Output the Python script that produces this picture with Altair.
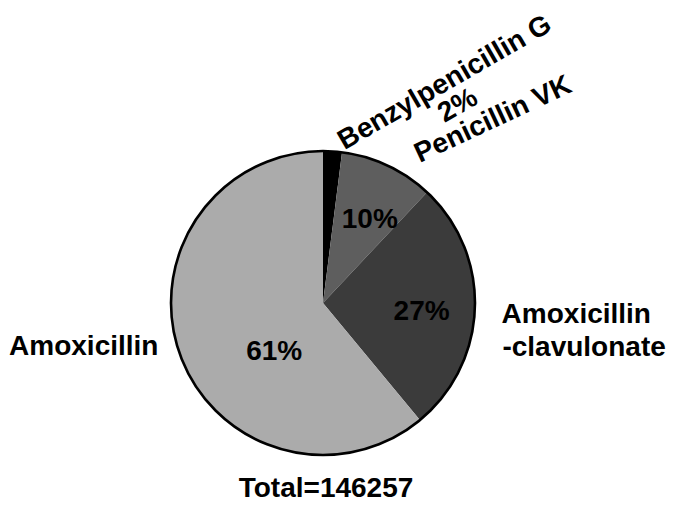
import altair as alt
import pandas as pd

# slice data (clockwise from 12 o'clock)
drugs = ["Benzylpenicillin G", "Penicillin VK", "Amoxicillin-clavulonate", "Amoxicillin"]
shares = [2, 10, 27, 61]
colors = ["#000000", "#5e5e5e", "#3b3b3b", "#ababab"]

# label texts with their polar placement (position in % of circle, radius in px)
label_text = ["61%", "27%", "10%", "Total=146257", "Amoxicillin", "Amoxicillin",
              "-clavulonate", "Benzylpenicillin G", "2%", "Penicillin VK"]
label_pos = [62.5, 26.4, 8.2, 49.74, 72.78, 26.06, 28.92, 8.06, 9.56, 11.91]
label_rad = [69, 99, 95, 186, 317, 179, 185, 251.6, 238.8, 250]
label_align = ["center", "center", "center", "center", "left", "left", "left",
               "center", "center", "center"]
label_angle = [0, 0, 0, 0, 0, 0, 0, 330, 330, 335]

slices = pd.DataFrame({"drug": drugs, "share": shares, "ord": list(range(len(drugs)))})
labels = pd.DataFrame({"text": label_text, "pos": label_pos, "rad": label_rad,
                       "align": label_align, "angle": label_angle})
outline = pd.DataFrame({"v": [100]})

CX, CY, R = 315, 295, 152
FONT = "Liberation Sans"

pie = alt.Chart(slices).mark_arc(outerRadius=R, stroke=None).encode(
    theta=alt.Theta("share:Q", stack=True, scale=alt.Scale(domain=[0, 100])),
    order=alt.Order("ord:Q"),
    color=alt.Color("drug:N", scale=alt.Scale(domain=drugs, range=colors), legend=None),
    x=alt.value(CX), y=alt.value(CY),
)

ring = alt.Chart(outline).mark_arc(outerRadius=R, fill=None, stroke="black", strokeWidth=2.6).encode(
    theta=alt.Theta("v:Q", stack=True),
    x=alt.value(CX), y=alt.value(CY),
)

def text_layer(align, angle):
    sub = labels[(labels["align"] == align) & (labels["angle"] == angle)]
    return alt.Chart(sub).mark_text(
        font=FONT, fontSize=28, fontWeight="bold", color="black",
        align=align, baseline="middle", angle=angle,
    ).encode(
        theta=alt.Theta("pos:Q", stack=False, scale=alt.Scale(domain=[0, 100], range=[0, 6.283185307179586])),
        radius=alt.Radius("rad:Q", scale=None),
        text="text:N",
        x=alt.value(CX), y=alt.value(CY),
    )

chart = alt.layer(
    pie, ring,
    text_layer("center", 0), text_layer("left", 0),
    text_layer("center", 330), text_layer("center", 335),
).properties(
    width=658, height=495, padding=0,
    autosize=alt.AutoSizeParams(type="none"),
).configure_view(stroke=None).resolve_scale(theta="independent")

chart.save("out.html", embed_options={"renderer": "svg", "actions": False})
